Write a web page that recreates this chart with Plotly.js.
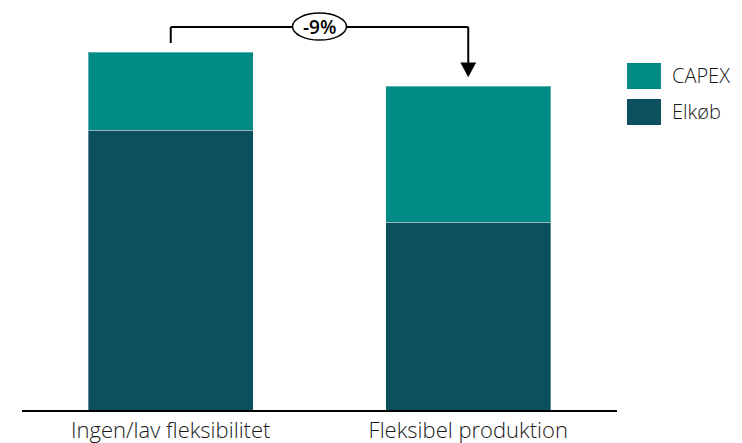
<!DOCTYPE html>
<html>
<head>
<meta charset="utf-8">
<script src="https://cdn.plot.ly/plotly-3.0.1.min.js"></script>
<style>html,body{margin:0;padding:0;background:#fff;} #chart{width:742px;height:443px;}</style>
</head>
<body>
<div id="chart"></div>
<script>
const categories = ["Ingen/lav fleksibilitet", "Fleksibel produktion"];
const seriesNames = ["Elkøb", "CAPEX"];
const elkob = [70, 47];
const capex = [19.5, 34];
const changeLabel = "-9%";

const colors = {"Elkøb": "#0B505C", "CAPEX": "#008B87"};
const FONT = "Open Sans, Lato, sans-serif";

const totals = categories.map((c, i) => elkob[i] + capex[i]);
const bracketY = Math.max(...totals) + 6.25;

const traces = [
  {type: "bar", name: seriesNames[0], x: categories, y: elkob, width: 0.554,
   marker: {color: colors["Elkøb"], line: {color: "rgba(255,255,255,0.35)", width: 1}}, showlegend: false, hoverinfo: "none"},
  {type: "bar", name: seriesNames[1], x: categories, y: capex, width: 0.554,
   marker: {color: colors["CAPEX"], line: {color: "rgba(255,255,255,0.35)", width: 1}}, showlegend: false, hoverinfo: "none"}
];

// legend (drawn manually, CAPEX on top)
const legendOrder = [seriesNames[1], seriesNames[0]];
const legendShapes = [];
const legendAnns = [];
legendOrder.forEach((name, k) => {
  const yTop = 0.8675 - k * 0.09;
  legendShapes.push({type: "rect", xref: "paper", yref: "paper",
    x0: 1.0168, x1: 1.0739, y0: yTop - 0.065, y1: yTop,
    fillcolor: colors[name], line: {width: 0}});
  legendAnns.push({xref: "paper", yref: "paper", x: 1.0895, y: yTop - 0.0325,
    xanchor: "left", yanchor: "middle", text: name, showarrow: false,
    font: {family: FONT, size: 20, color: "#1a1a1a", weight: 300}});
});

const tipY = totals[1] + 2.3;
const shapes = legendShapes.concat([
  {type: "line", xref: "x", yref: "y", x0: 0, x1: 0, y0: totals[0] + 2.25, y1: bracketY,
   line: {color: "#000", width: 2}},
  {type: "line", xref: "x", yref: "y", x0: 0, x1: 1, y0: bracketY, y1: bracketY,
   line: {color: "#000", width: 2}},
  {type: "line", xref: "x", yref: "y", x0: 1, x1: 1, y0: bracketY, y1: tipY + 3.5,
   line: {color: "#000", width: 2}},
  {type: "path", xref: "x", yref: "y", xsizemode: "pixel", ysizemode: "pixel",
   xanchor: 1, yanchor: tipY, path: "M-7.5,14 L7.5,14 L0,0 Z",
   fillcolor: "#000", line: {color: "#000", width: 0.5}},
  {type: "circle", xref: "x", yref: "y", xsizemode: "pixel", ysizemode: "pixel",
   xanchor: 0.5, yanchor: bracketY + 0.1, x0: -27, x1: 27, y0: -13.5, y1: 13.5,
   fillcolor: "#fff", line: {color: "#000", width: 1.5}}
]);

const annotations = legendAnns.concat([
  {xref: "x", yref: "y", x: 0.5, y: bracketY + 0.1, text: changeLabel, showarrow: false,
   xanchor: "center", yanchor: "middle",
   font: {family: FONT, size: 19, color: "#000", weight: 600}}
]);

const layout = {
  width: 742, height: 443,
  margin: {l: 22, r: 125, t: 10, b: 33},
  paper_bgcolor: "#fff", plot_bgcolor: "#fff",
  barmode: "stack",
  showlegend: false,
  xaxis: {type: "category", range: [-0.5, 1.5], showline: true, linecolor: "#000", linewidth: 1.5,
    ticks: "", showgrid: false, zeroline: false, fixedrange: true,
    tickfont: {family: FONT, size: 22, color: "#1a1a1a", weight: 300}},
  yaxis: {range: [0, 100], visible: false, showgrid: false, zeroline: false, fixedrange: true},
  shapes: shapes,
  annotations: annotations
};

Plotly.newPlot("chart", traces, layout, {displayModeBar: false, staticPlot: true});
</script>
</body>
</html>
